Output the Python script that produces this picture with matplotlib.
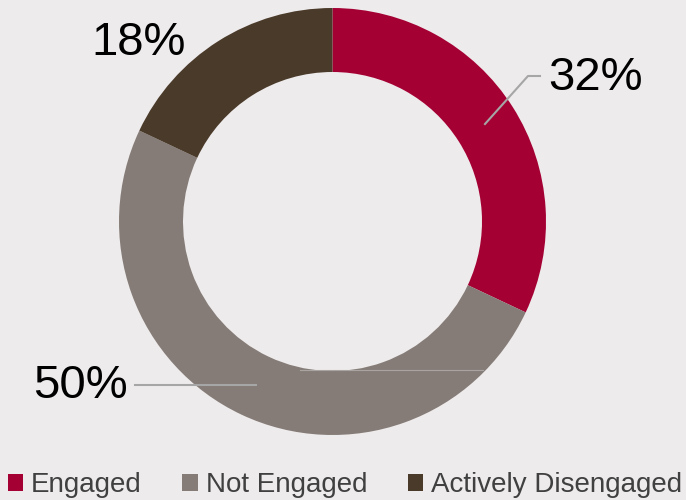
import matplotlib.pyplot as plt
from matplotlib.patches import Patch

plt.rcParams['font.family'] = ['Liberation Sans', 'DejaVu Sans']

labels = ['Engaged', 'Not Engaged', 'Actively Disengaged']
values = [32, 50, 18]
colors = ['#A50034', '#857C77', '#4A3A2A']
bg = '#EEEBEC'

W, H = 686, 500
fig = plt.figure(figsize=(W / 100, H / 100), dpi=100, facecolor=bg)
ax = fig.add_axes([0, 0, 1, 1])
ax.set_facecolor(bg)

# pixel coords, y measured from the top of the picture
cx, cy, R, ring = 332.5, 221.5, 213.5, 64
ax.pie(values, colors=colors, startangle=90, counterclock=False,
       center=(cx, H - cy), radius=R,
       wedgeprops=dict(width=ring, linewidth=0))

# leader lines
lc = '#A6A6A6'
ax.plot([485, 528, 540], [H - 124, H - 76, H - 76], color=lc, lw=1.5)
ax.plot([135, 256], [H - 385, H - 385], color=lc, lw=1.5)
ax.plot([300, 483], [H - 370, H - 370], color='#A9A3A1', lw=0.8)

# percentage labels
ax.text(548, H - 78, '32%', fontsize=34, ha='left', va='center')
ax.text(91, H - 43, '18%', fontsize=34, ha='left', va='center')
ax.text(33, H - 386, '50%', fontsize=34, ha='left', va='center')

ax.set_xlim(0, W)
ax.set_ylim(0, H)
ax.set_aspect('auto')
ax.axis('off')

handles = [Patch(facecolor=c, edgecolor='none') for c in colors]
leg = ax.legend(handles, labels, loc='center', bbox_to_anchor=(345 / W, 1 - 485 / H),
                ncol=3, frameon=False, fontsize=20, handlelength=0.55, handleheight=0.55,
                handletextpad=0.3, columnspacing=1.45, borderaxespad=0, borderpad=0)
for t in leg.get_texts():
    t.set_color('#404040')

fig.savefig('out.png', dpi=100, facecolor=bg)
